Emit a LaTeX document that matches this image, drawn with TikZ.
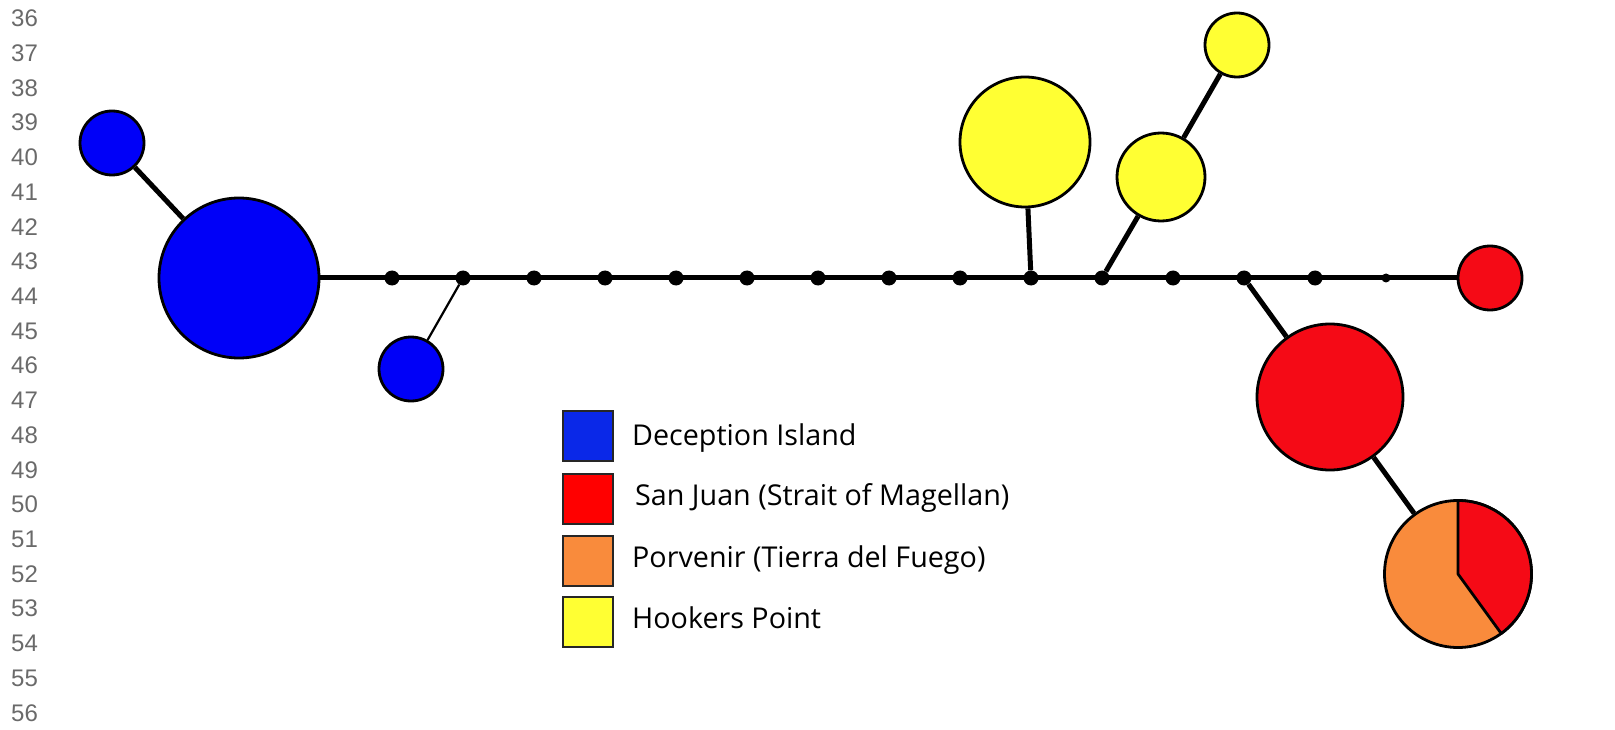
\documentclass[tikz,border=0pt]{standalone}
\usepackage{fontspec}
\setmainfont{Open Sans}
\newfontfamily\numfont{Liberation Sans}

\definecolor{diblue}{HTML}{0000F8}
\definecolor{legblue}{HTML}{0A28E8}
\definecolor{sjred}{HTML}{F50A16}
\definecolor{legred}{HTML}{FF0000}
\definecolor{pvorange}{HTML}{F98B3C}
\definecolor{hpyellow}{HTML}{FFFF33}
\definecolor{numgray}{HTML}{6A6A6A}

\begin{document}
\begin{tikzpicture}[x=1pt, y=-1pt]
        % Style Definitions
        \tikzstyle{hap} = [circle, draw=black, line width=2.8pt, inner sep=0pt]
        \tikzstyle{mv} = [circle, fill=black, inner sep=0pt, minimum size=15pt]
        \tikzstyle{link} = [line width=5pt]
        \tikzstyle{legbox} = [rectangle, draw=black!85, fill=white, line width=2pt, minimum size=50pt, inner sep=0pt]
        \tikzstyle{legtext} = [anchor=base west, inner sep=0pt, font=\fontsize{28.7}{34}\selectfont]
        \tikzstyle{rownum} = [anchor=west, inner sep=0pt, text=numgray, font=\numfont\fontsize{24}{28}\selectfont]

        \useasboundingbox (0,0) rectangle (1615,730);

        % Row numbers
        \foreach \n [count=\i from 0] in {36,...,56}
            \node (row\n) [rownum] at (11, 18.6+34.71*\i) {\n};

        % Median vectors
        \foreach \k in {1,...,14}
            \node (mv\k) [mv] at (392+71*\k-71, 278) {};
        \node (mv15) [mv, minimum size=9pt] at (1386,278) {};

        % Haplotypes
        \node (di1) [hap, fill=diblue, minimum size=160pt] at (239,278) {};
        \node (di2) [hap, fill=diblue, minimum size=64pt] at (112,143) {};
        \node (di3) [hap, fill=diblue, minimum size=64pt] at (411,369) {};
        \node (hp1) [hap, fill=hpyellow, minimum size=130pt] at (1025,142) {};
        \node (hp2) [hap, fill=hpyellow, minimum size=88pt] at (1161,177) {};
        \node (hp3) [hap, fill=hpyellow, minimum size=64pt] at (1237,45) {};
        \node (sj1) [hap, fill=sjred, minimum size=64pt] at (1490,278) {};
        \node (sj2) [hap, fill=sjred, minimum size=146pt] at (1330,397) {};
        \node (pv1) [hap, fill=pvorange, minimum size=147pt] at (1458,574) {};
        \filldraw[fill=sjred, draw=black, line width=2.8pt, line join=round]
            (pv1.center) -- ++(90:73.5pt) arc[start angle=90, end angle=-54, radius=73.5pt] -- cycle;

        % Links
        \draw[link] (di1) \foreach \k in {1,...,15} { -- (mv\k) } -- (sj1);
        \draw[link] (di2) -- (di1);
        \draw[line width=2.2pt] (mv2) -- (di3);
        \draw[link] (hp1) -- (mv10);
        \draw[link] (hp2) -- (mv11);
        \draw[link] (hp3) -- (hp2);
        \draw[link] (mv13) -- (sj2);
        \draw[link] (sj2) -- (pv1);

        % Legend
        \node (legDI) [legbox, fill=legblue] at (588,436) {};
        \node (legSJ) [legbox, fill=legred] at (588,499) {};
        \node (legPV) [legbox, fill=pvorange] at (588,561) {};
        \node (legHP) [legbox, fill=hpyellow] at (588,622) {};
        \node (txtDI) [legtext] at (632,445) {Deception Island};
        \node (txtSJ) [legtext] at (635,505) {San Juan (Strait of Magellan)};
        \node (txtPV) [legtext] at (632,567) {Porvenir (Tierra del Fuego)};
        \node (txtHP) [legtext] at (632,628) {Hookers Point};

    \end{tikzpicture}
\end{document}
